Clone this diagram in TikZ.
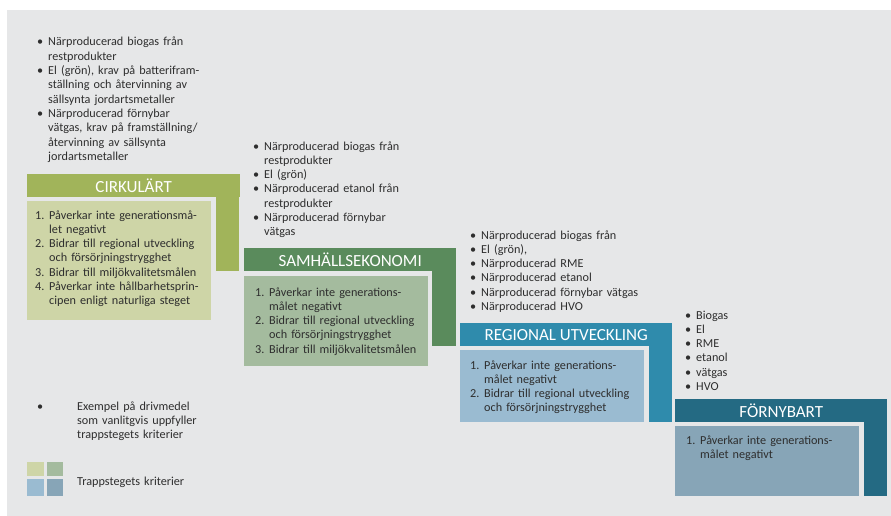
\documentclass[tikz,border=0pt]{standalone}
\usepackage{fontspec}
\setmainfont{Carlito}
\usepackage{tikz}
\usetikzlibrary{positioning}

\definecolor{bggrey}{HTML}{E6E7E8}
\definecolor{txtgrey}{HTML}{2E2E2E}
\definecolor{cirkhead}{HTML}{A1B45A}
\definecolor{cirkbox}{HTML}{CED5A7}
\definecolor{samhhead}{HTML}{5A8B5C}
\definecolor{samhbox}{HTML}{A4BB9E}
\definecolor{reghead}{HTML}{2F8BAC}
\definecolor{regbox}{HTML}{9ABBD1}
\definecolor{fornhead}{HTML}{246A83}
\definecolor{fornbox}{HTML}{87A5B7}

\newcommand{\bodyfont}{\fontsize{12.2}{14.3}\selectfont}
\newcommand{\headfont}{\fontsize{17}{20}\selectfont}
% line break that keeps the hanging indent
\newcommand{\brk}{\unskip\hfil\break}
% bullet item and numbered item with hanging indent
\newcommand{\bitem}[1]{\noindent\hangindent=11pt\hangafter=1\makebox[11pt][l]{\textbullet}#1\par}
\newcommand{\nitem}[2]{\noindent\hangindent=14pt\hangafter=1\makebox[14pt][l]{#1.}#2\par}

\tikzset{
	stephead/.style={fill=#1, text=white, font=\headfont, inner sep=0pt,
		minimum width=212pt, minimum height=23pt, anchor=north west},
	stepbox/.style={fill=#1, inner sep=0pt, minimum width=184pt, anchor=north west},
	listtext/.style={text width=230pt, inner sep=0pt, anchor=base west,
		font=\bodyfont, text=txtgrey},
}

\begin{document}
\begin{tikzpicture}[x=1pt, y=-1pt]
	\useasboundingbox (0,0) rectangle (891,516);
	\fill[bggrey] (7,10) rectangle (891,516);
	
	% CIRKULÄRT
	\fill[cirkhead] (216,190) rectangle (239,271);
	\node[stephead=cirkhead, minimum width=213pt] (cirk) at (27,174) {CIRKULÄRT};
	\node[stepbox=cirkbox, minimum height=119pt] (cirkcrit) at (27,201) {};
	\node[listtext] (cirkfuel) at (37,46) {\bitem{Närproducerad biogas från\brk restprodukter}
		\bitem{El (grön), krav på batterifram-\brk ställning och återvinning av\brk sällsynta jordartsmetaller}
		\bitem{Närproducerad förnybar\brk vätgas, krav på framställning/\brk återvinning av sällsynta\brk jordartsmetaller}};
	\node[listtext] (cirklist) at (35,219) {\nitem{1}{Påverkar inte generationsmå-\brk let negativt}
		\nitem{2}{Bidrar till regional utveckling\brk och försörjningstrygghet}
		\nitem{3}{Bidrar till miljökvalitetsmålen}
		\nitem{4}{Påverkar inte hållbarhetsprin-\brk cipen enligt naturliga steget}};
	
	% SAMHÄLLSEKONOMI
	\fill[samhhead] (432,265) rectangle (456,346);
	\node[stephead=samhhead] (samh) at (244,248) {SAMHÄLLSEKONOMI};
	\node[stepbox=samhbox, minimum height=90pt] (samhcrit) at (244,276) {};
	\node[listtext] (samhfuel) at (253,150) {\bitem{Närproducerad biogas från\brk restprodukter}
		\bitem{El (grön)}
		\bitem{Närproducerad etanol från\brk restprodukter}
		\bitem{Närproducerad förnybar\brk vätgas}};
	\node[listtext] (samhlist) at (255,296) {\nitem{1}{Påverkar inte generations-\brk målet negativt}
		\nitem{2}{Bidrar till regional utveckling\brk och försörjningstrygghet}
		\nitem{3}{Bidrar till miljökvalitetsmålen}};
	
	% REGIONAL UTVECKLING
	\fill[reghead] (649,340) rectangle (672,422);
	\node[stephead=reghead] (reg) at (460,323) {REGIONAL UTVECKLING};
	\node[stepbox=regbox, minimum height=72pt] (regcrit) at (460,350) {};
	\node[listtext] (regfuel) at (470,239) {\bitem{Närproducerad biogas från}
		\bitem{El (grön),}
		\bitem{Närproducerad RME}
		\bitem{Närproducerad etanol}
		\bitem{Närproducerad förnybar vätgas}
		\bitem{Närproducerad HVO}};
	\node[listtext] (reglist) at (470,369) {\nitem{1}{Påverkar inte generations-\brk målet negativt}
		\nitem{2}{Bidrar till regional utveckling\brk och försörjningstrygghet}};
	
	% FÖRNYBART
	\fill[fornhead] (864,415) rectangle (887,496);
	\node[stephead=fornhead] (forn) at (675,399) {FÖRNYBART};
	\node[stepbox=fornbox, minimum height=70pt] (forncrit) at (675,426) {};
	\node[listtext] (fornfuel) at (685,319) {\bitem{Biogas}
		\bitem{El}
		\bitem{RME}
		\bitem{etanol}
		\bitem{vätgas}
		\bitem{HVO}};
	\node[listtext] (fornlist) at (686,444) {\nitem{1}{Påverkar inte generations-\brk målet negativt}};
	
	% legend
	\node[listtext, text width=10pt] (legbul) at (37,410) {\textbullet};
	\node[listtext] (legfuel) at (77,410) {Exempel på drivmedel\\som vanlitgvis uppfyller\\trappstegets kriterier};
	\fill[cirkbox] (27,462) rectangle (44,476);
	\fill[samhbox] (47,462) rectangle (63,476);
	\fill[regbox] (27,479) rectangle (44,496);
	\fill[fornbox] (47,479) rectangle (63,496);
	\node[listtext] (legcrit) at (77,485) {Trappstegets kriterier};
\end{tikzpicture}
\end{document}
